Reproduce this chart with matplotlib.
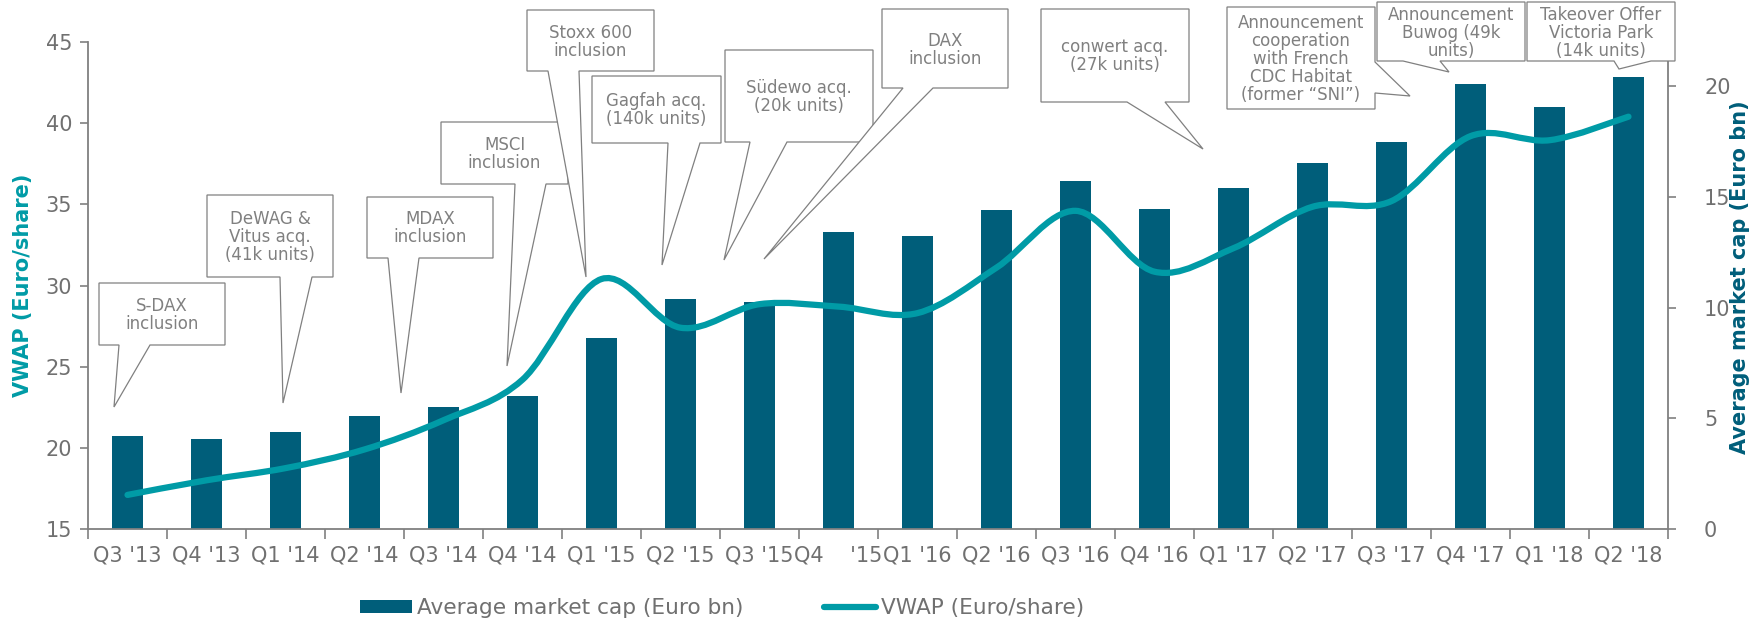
import matplotlib
matplotlib.use("Agg")
import matplotlib.pyplot as plt
from matplotlib.path import Path
from matplotlib.patches import PathPatch, Polygon, Patch
from matplotlib.lines import Line2D
from matplotlib.transforms import Affine2D
import numpy as np

# ---------------- data ----------------
quarters = ["Q3 '13", "Q4 '13", "Q1 '14", "Q2 '14", "Q3 '14", "Q4 '14",
            "Q1 '15", "Q2 '15", "Q3 '15", "Q4    '15", "Q1 '16", "Q2 '16",
            "Q3 '16", "Q4 '16", "Q1 '17", "Q2 '17", "Q3 '17", "Q4 '17",
            "Q1 '18", "Q2 '18"]
market_cap = [4.2, 4.05, 4.4, 5.1, 5.5, 6.0, 8.65, 10.4, 10.25, 13.4,
              13.25, 14.4, 15.7, 14.45, 15.4, 16.55, 17.5, 20.1, 19.05, 20.4]
vwap = [17.1, 18.0, 18.75, 19.9, 21.7, 24.2, 30.4, 27.4, 28.85, 28.7,
        28.3, 31.1, 34.6, 30.85, 32.3, 34.85, 35.2, 39.2, 38.95, 40.4]
left_ticks = [15, 20, 25, 30, 35, 40, 45]
right_ticks = [0, 5, 10, 15, 20]

# callouts: text, box (x0, y0, x1, y1) in image pixels from top-left,
# side of the pointer, pointer base span, pointer tip
callouts = [
    ("S-DAX\ninclusion", (99, 283, 225, 345), "bottom", (119, 150), (114, 407)),
    ("DeWAG &\nVitus acq.\n(41k units)", (207, 195, 333, 277), "bottom", (280, 312), (283, 403)),
    ("MDAX\ninclusion", (367, 197, 493, 258), "bottom", (388, 419), (401, 393)),
    ("MSCI\ninclusion", (441, 122, 568, 184), "bottom", (515, 546), (507, 366)),
    ("Stoxx 600\ninclusion", (527, 10, 654, 71), "bottom", (548, 579), (586, 277)),
    ("Gagfah acq.\n(140k units)", (592, 76, 721, 143), "bottom", (668, 700), (662, 265)),
    ("Südewo acq.\n(20k units)", (725, 50, 873, 142), "bottom", (750, 787), (724, 260)),
    ("DAX\ninclusion", (882, 9, 1008, 88), "bottom", (903, 933), (764, 259)),
    ("conwert acq.\n(27k units)", (1041, 9, 1189, 102), "bottom", (1127, 1165), (1203, 149)),
    ("Announcement\ncooperation\nwith French\nCDC Habitat\n(former \u201cSNI\u201d)",
     (1227, 7, 1375, 109), "right", (62, 93), (1410, 96)),
    ("Announcement\nBuwog (49k\nunits)", (1377, 2, 1525, 61), "bottom", (1403, 1440), (1449, 72)),
    ("Takeover Offer\nVictoria Park\n(14k units)", (1527, 2, 1675, 61), "bottom", (1614, 1651), (1619, 69)),
]

# ---------------- style ----------------
BAR = "#005E7A"
LINE = "#009BA6"
GRAY = "#808080"
TXT = "#707070"
W, H, DPI = 1764, 621, 100

plt.rcParams["font.family"] = ["DejaVu Sans"]
fig = plt.figure(figsize=(W / DPI, H / DPI), dpi=DPI)
ax = fig.add_axes([88 / W, 1 - 529 / H, (1668 - 88) / W, (529 - 42) / H])
ax2 = ax.twinx()
ax.set_zorder(ax2.get_zorder() + 1)
ax.patch.set_visible(False)

x = np.arange(len(quarters))

# bars on right axis
ax2.bar(x, market_cap, width=0.4, color=BAR, zorder=2)
ax2.set_ylim(0, 22)
ax2.set_yticks(right_ticks)

# smoothed VWAP line (Catmull-Rom as cubic Bezier path)
pts = np.column_stack([x, vwap]).astype(float)
verts = [tuple(pts[0])]
codes = [Path.MOVETO]
n = len(pts)
for i in range(n - 1):
    p0 = pts[i - 1] if i > 0 else pts[i]
    p1 = pts[i]
    p2 = pts[i + 1]
    p3 = pts[i + 2] if i + 2 < n else pts[i + 1]
    c1 = p1 + (p2 - p0) / 6.0
    c2 = p2 - (p3 - p1) / 6.0
    verts += [tuple(c1), tuple(c2), tuple(p2)]
    codes += [Path.CURVE4] * 3
ax.add_patch(PathPatch(Path(verts, codes), fill=False, edgecolor=LINE,
                       linewidth=4.5, capstyle="round", joinstyle="round",
                       zorder=3))
ax.set_ylim(15, 45)
ax.set_yticks(left_ticks)
ax.set_xlim(-0.5, len(quarters) - 0.5)

# x ticks: marks at boundaries, labels at centers
for a in (ax, ax2):
    a.set_xticks(np.arange(-0.5, len(quarters), 1.0))
    a.set_xticklabels([])
ax.set_xticks(x, minor=True)
ax.set_xticklabels(quarters, minor=True)
ax.tick_params(axis="x", which="major", length=7, width=1.2, color=GRAY, direction="out")
ax.tick_params(axis="x", which="minor", length=0, pad=12, labelsize=15, labelcolor=TXT)
ax2.tick_params(axis="x", which="both", length=0)

ax.tick_params(axis="y", length=6, width=1.2, color=GRAY, labelsize=15,
               labelcolor=TXT, pad=5.5)
ax2.tick_params(axis="y", length=6, width=1.2, color=GRAY, labelsize=15,
                labelcolor=TXT, pad=20)

for a in (ax, ax2):
    a.spines["top"].set_visible(False)
    for s in ("left", "right", "bottom"):
        a.spines[s].set_color(GRAY)
        a.spines[s].set_linewidth(1.3)
ax.spines["right"].set_visible(False)
ax2.spines["left"].set_visible(False)
ax2.spines["bottom"].set_visible(False)

ax.set_ylabel("VWAP (Euro/share)", color=LINE, fontsize=15, fontweight="bold")
ax.yaxis.set_label_coords(-0.0348, 0.50)
ax2.set_ylabel("Average market cap (Euro bn)", color=BAR, fontsize=15,
               fontweight="bold")
ax2.yaxis.set_label_coords(1.039, 0.517)

# legend
handles = [Patch(facecolor=BAR, edgecolor="none"),
           Line2D([], [], color=LINE, lw=4.5, solid_capstyle="round")]
fig.legend(handles, ["Average market cap (Euro bn)", "VWAP (Euro/share)"],
           loc="center", bbox_to_anchor=(722 / W, 1 - 608 / H), ncol=2,
           frameon=False, fontsize=15.6, labelcolor=TXT, handlelength=2.4,
           handleheight=0.55, handletextpad=0.25, columnspacing=3.7,
           borderaxespad=0, borderpad=0)

# callouts in image pixel coordinates
pix = Affine2D().scale(1, -1).translate(0, H)
for i, (txt, (x0, y0, x1, y1), side, (b0, b1), (tx, ty)) in enumerate(callouts):
    if side == "bottom":
        poly = [(x0, y0), (x1, y0), (x1, y1), (b1, y1), (tx, ty), (b0, y1), (x0, y1)]
    else:
        poly = [(x0, y0), (x1, y0), (x1, b0), (tx, ty), (x1, b1), (x1, y1), (x0, y1)]
    fig.add_artist(Polygon(poly, closed=True, transform=pix, facecolor="white",
                           edgecolor=GRAY, linewidth=0.9, zorder=10 + 2 * i,
                           clip_on=False))
    fig.text((x0 + x1) / 2, (y0 + y1) / 2 + 1, txt, transform=pix, ha="center",
             va="center", fontsize=12, color=GRAY, linespacing=1.0,
             zorder=11 + 2 * i)

fig.savefig("out.png", dpi=DPI)
